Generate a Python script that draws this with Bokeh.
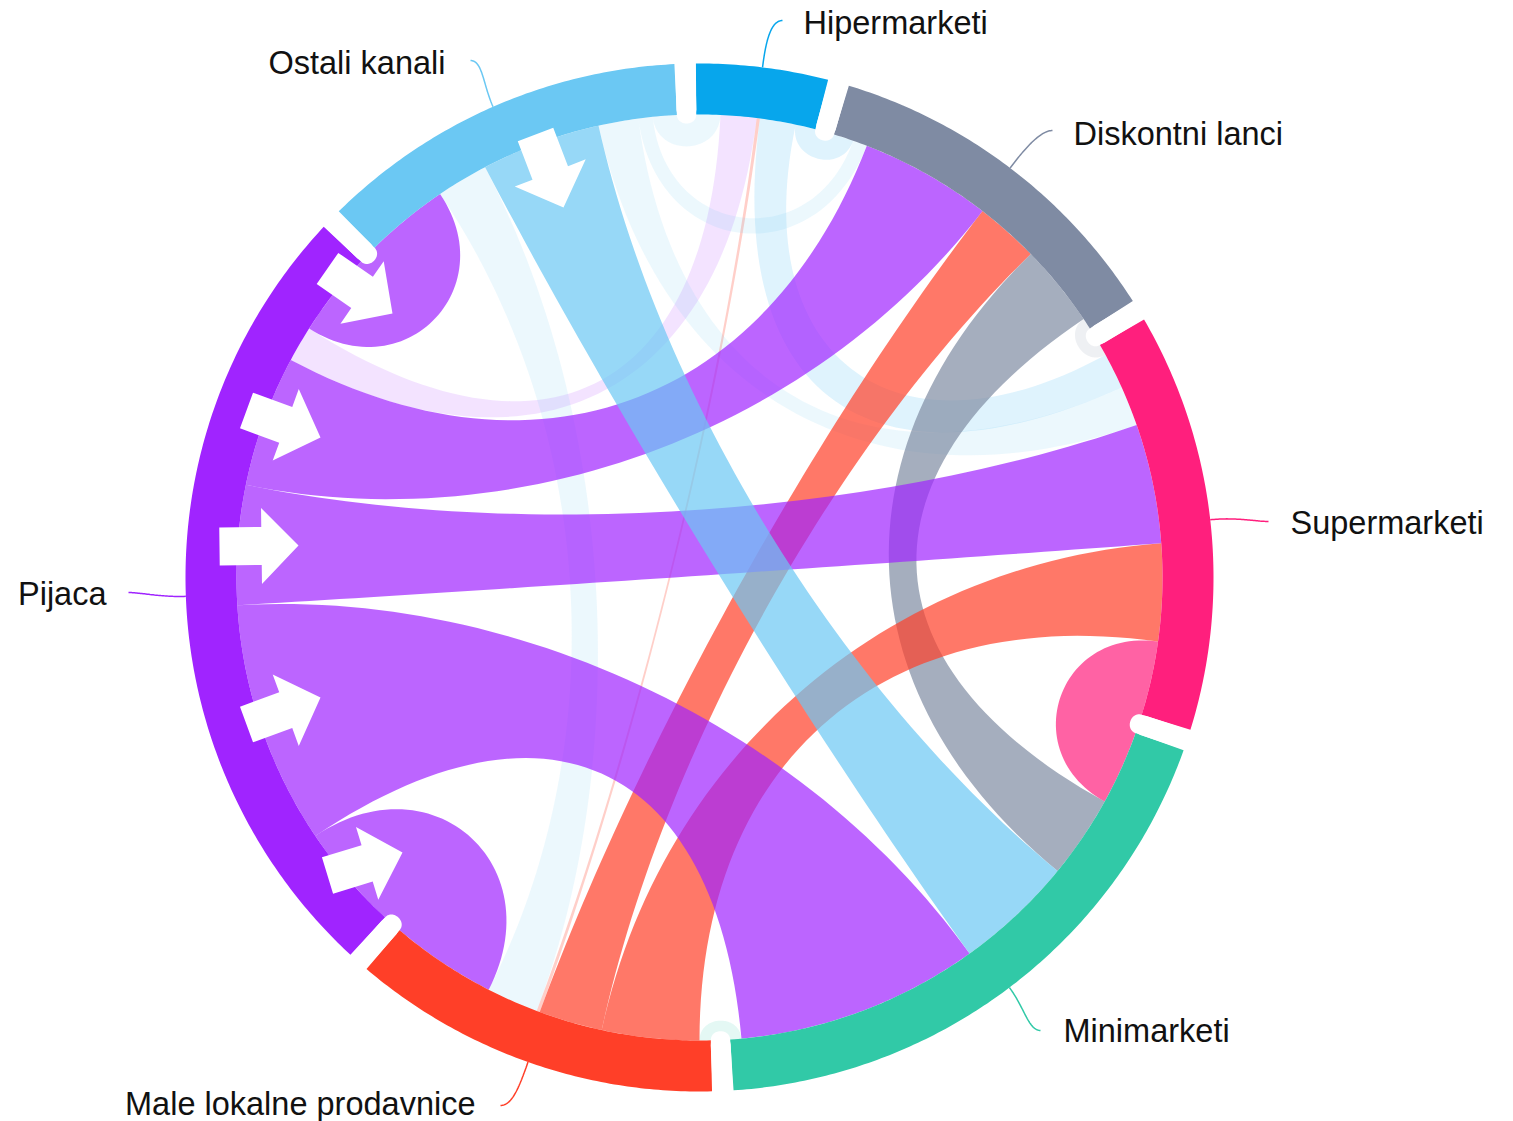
import numpy as np
from bokeh.plotting import figure
from bokeh.models import Range1d
from bokeh.embed import file_html
from bokeh.resources import INLINE
from bokeh.core.properties import value

# ---------------- data ----------------
nodes = ["Hipermarketi", "Diskontni lanci", "Supermarketi", "Minimarketi",
         "Male lokalne prodavnice", "Pijaca", "Ostali kanali"]

link_from = ["Hipermarketi", "Hipermarketi",
             "Diskontni lanci", "Diskontni lanci",
             "Supermarketi", "Minimarketi",
             "Male lokalne prodavnice", "Male lokalne prodavnice", "Male lokalne prodavnice",
             "Pijaca", "Pijaca", "Pijaca", "Pijaca", "Pijaca", "Pijaca",
             "Ostali kanali", "Ostali kanali", "Ostali kanali", "Ostali kanali", "Ostali kanali"]
link_to = ["Supermarketi", "Diskontni lanci",
           "Minimarketi", "Supermarketi",
           "Minimarketi", "Male lokalne prodavnice",
           "Supermarketi", "Diskontni lanci", "Hipermarketi",
           "Male lokalne prodavnice", "Minimarketi", "Supermarketi", "Diskontni lanci",
           "Hipermarketi", "Ostali kanali",
           "Male lokalne prodavnice", "Minimarketi", "Supermarketi", "Diskontni lanci", "Hipermarketi"]
link_weight = [4.5, 2.5,
               10.4, 1.4,
               9.3, 1.4,
               12.2, 8.0, 0.4,
               13.3, 30.5, 15.0, 16.5, 4.5, 10.5,
               6.5, 15.0, 5.0, 1.8, 3.0]

# ---------------- style ----------------
node_colors = ["#07A6EC", "#7F8BA3", "#FF1F7D", "#31C9A7", "#FF3F28", "#A024FF", "#6BC8F3"]
dimmed = {0: 0.13, 1: 0.13, 3: 0.13, 5: 0.13, 8: 0.25, 13: 0.13,
          15: 0.13, 17: 0.13, 18: 0.13, 19: 0.13}
SOLID_ALPHA = 0.7

CX, CY = 699.0, 577.0
R_IN, R_OUT = 463.0, 514.0
START = -90.4
GAP = 2.4

label_layout = {
    "Hipermarketi": dict(tx=803, ty=22, align="left", end=(782, 20)),
    "Diskontni lanci": dict(tx=1073, ty=133, align="left", end=(1052, 130)),
    "Supermarketi": dict(tx=1290, ty=522, align="left", end=(1268, 521)),
    "Minimarketi": dict(tx=1063, ty=1030, align="left", end=(1040, 1030)),
    "Male lokalne prodavnice": dict(tx=475, ty=1103, align="right", end=(500, 1105)),
    "Pijaca": dict(tx=106, ty=593, align="right", end=(128, 592)),
    "Ostali kanali": dict(tx=445, ty=62, align="right", end=(470, 60)),
}

arrows = [((535, 134), (563, 207)), ((327, 268), (392, 313)), ((246, 410), (320, 437)),
          ((219, 546), (298, 545)), ((246, 724), (320, 697)), ((327, 875), (402, 852))]

# ---------------- layout computation ----------------
N = len(nodes)
idx = {n: i for i, n in enumerate(nodes)}
L = len(link_from)
ends = {i: [] for i in range(N)}
for k in range(L):
    s, t = idx[link_from[k]], idx[link_to[k]]
    ends[s].append(((s - t) % N, 0, k))
    ends[t].append(((t - s) % N, 1, k))
totals = [sum(link_weight[k] for _, _, k in ends[i]) for i in range(N)]
scale = (360.0 - N * GAP) / sum(totals)

node_span = []
link_pos = {}
a = START
for i in range(N):
    a_start = a
    for key, side, k in sorted(ends[i]):
        w = link_weight[k] * scale
        link_pos[(k, side)] = (a, a + w)
        a += w
    node_span.append((a_start, a))
    a += GAP


def pt(ang, r):
    t = np.deg2rad(ang)
    return CX + r * np.cos(t), CY + r * np.sin(t)


def arc(a0, a1, r, n=None):
    if n is None:
        n = max(4, int(abs(a1 - a0) * 2) + 2)
    t = np.deg2rad(np.linspace(a0, a1, n))
    return list(CX + r * np.cos(t)), list(CY + r * np.sin(t))


def bez(p0, p1, p2, p3, n=60):
    t = np.linspace(0, 1, n)
    x = (1 - t) ** 3 * p0[0] + 3 * (1 - t) ** 2 * t * p1[0] + 3 * (1 - t) * t ** 2 * p2[0] + t ** 3 * p3[0]
    y = (1 - t) ** 3 * p0[1] + 3 * (1 - t) ** 2 * t * p1[1] + 3 * (1 - t) * t ** 2 * p2[1] + t ** 3 * p3[1]
    return list(x), list(y)


def chord(k):
    a0, a1 = link_pos[(k, 0)]
    b0, b1 = link_pos[(k, 1)]
    c = [a0, a1, b0, b1]

    def cfr(i):
        d = abs(c[3 - i] - c[i]) * np.pi / 180.0
        d = d % (2 * np.pi)
        if d > np.pi:
            d = 2 * np.pi - d
        f = 0.6
        if d < 1:
            f *= d
        return R_IN * (1 - f)

    xs, ys = [], []
    x, y = arc(a0, a1, R_IN); xs += x; ys += y
    x, y = bez(pt(a1, R_IN), pt(a1, cfr(1)), pt(b0, cfr(2)), pt(b0, R_IN)); xs += x; ys += y
    x, y = arc(b0, b1, R_IN); xs += x; ys += y
    x, y = bez(pt(b1, R_IN), pt(b1, cfr(3)), pt(a0, cfr(0)), pt(a0, R_IN)); xs += x; ys += y
    return xs, ys


# ---------------- figure ----------------
W, H = 1505, 1121
p = figure(width=W, height=H, x_range=Range1d(0, W), y_range=Range1d(H, 0),
           output_backend="svg", toolbar_location=None, x_axis_location=None,
           y_axis_location=None, min_border=0, outline_line_color=None,
           background_fill_color="white", border_fill_color="white")
p.grid.visible = False

# links: dimmed first, then solid ones in data order
order = [k for k in range(L) if k in dimmed] + [k for k in range(L) if k not in dimmed]
cx_list, cy_list, ccol, calpha = [], [], [], []
for k in order:
    xs, ys = chord(k)
    cx_list.append(xs); cy_list.append(ys)
    ccol.append(node_colors[idx[link_from[k]]])
    calpha.append(dimmed.get(k, SOLID_ALPHA))
p.patches(xs=cx_list, ys=cy_list, fill_color=ccol, fill_alpha=calpha, line_color=None)

# node ring
rx, ry = [], []
for i in range(N):
    s, e = node_span[i]
    xo, yo = arc(s, e, R_OUT)
    xi, yi = arc(e, s, R_IN)
    rx.append(xo + xi); ry.append(yo + yi)
p.patches(xs=rx, ys=ry, fill_color=node_colors, line_color=None)

# white separators with rounded inner ends
gx0, gy0, gx1, gy1 = [], [], [], []
for i in range(N):
    g = node_span[i][1] + GAP / 2
    x0, y0 = pt(g, 468)
    x1, y1 = pt(g, 528)
    gx0.append(x0); gy0.append(y0); gx1.append(x1); gy1.append(y1)
p.segment(x0=gx0, y0=gy0, x1=gx1, y1=gy1, line_color="white", line_width=20, line_cap="round")

# arrows (annotation)
axs, ays = [], []
for (tx, ty), (px, py) in arrows:
    ux, uy = px - tx, py - ty
    ln = np.hypot(ux, uy)
    ux, uy = ux / ln, uy / ln
    nx, ny = -uy, ux
    ws, wh, hl = 19, 38, 37
    kx, ky = px - ux * hl, py - uy * hl
    axs.append([tx + nx * ws, kx + nx * ws, kx + nx * wh, px, kx - nx * wh, kx - nx * ws, tx - nx * ws])
    ays.append([ty + ny * ws, ky + ny * ws, ky + ny * wh, py, ky - ny * wh, ky - ny * ws, ty - ny * ws])
p.patches(xs=axs, ys=ays, fill_color="white", line_color=None)

# labels and connectors
lx, ly, lcol = [], [], []
for i, name in enumerate(nodes):
    s, e = node_span[i]
    m = (s + e) / 2
    lay = label_layout[name]
    p0 = pt(m, R_OUT)
    p1 = pt(m, R_OUT + 25)
    ex, ey = lay["end"]
    hdir = 1 if lay["align"] == "left" else -1
    p2 = (ex - hdir * 12, ey)
    x, y = bez(p0, p1, p2, (ex, ey), 40)
    lx.append(x); ly.append(y); lcol.append(node_colors[i])
    p.text(x=[lay["tx"]], y=[lay["ty"]], text=[name], text_align=lay["align"],
           text_baseline="middle", text_font=value("Liberation Sans"),
           text_font_size="32.5px", text_color="#111111")
p.multi_line(xs=lx, ys=ly, line_color=lcol, line_width=1.5)

open("out.html", "w").write(file_html(p, INLINE))
